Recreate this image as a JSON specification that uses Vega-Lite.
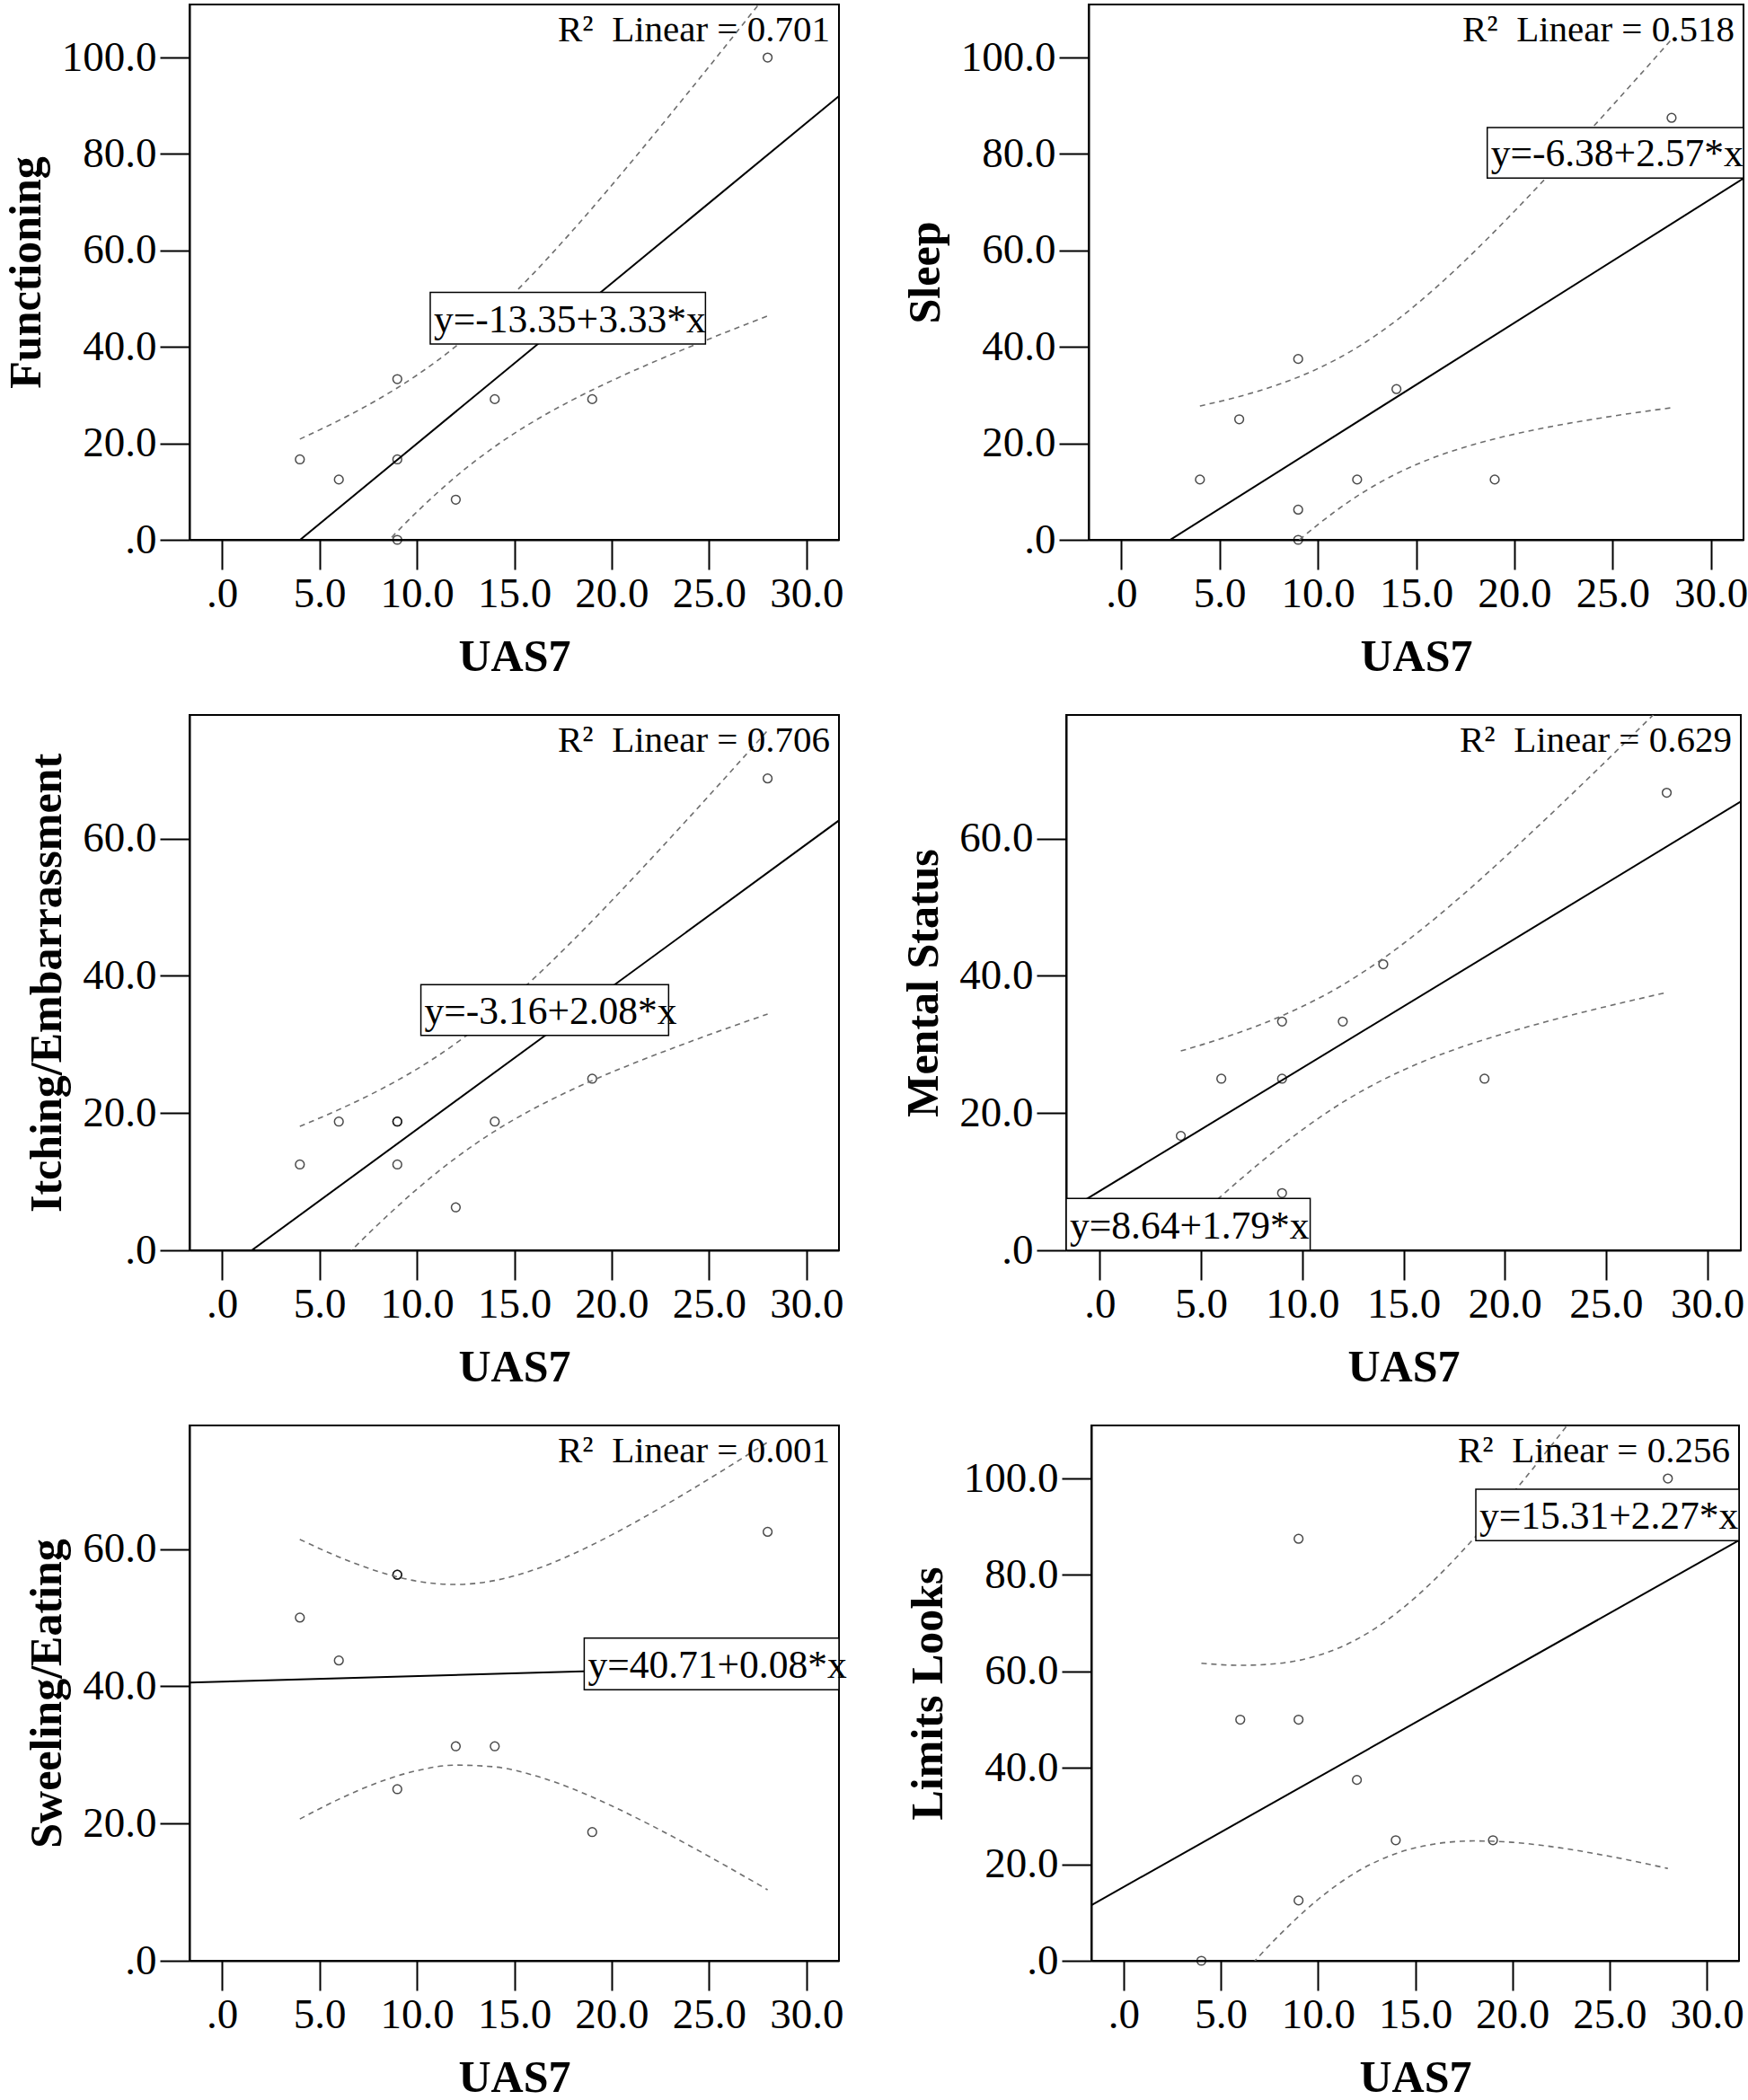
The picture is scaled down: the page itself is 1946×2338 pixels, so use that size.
{
  "$schema": "https://vega.github.io/schema/vega-lite/v6.json",
  "background": "white",
  "padding": {"left": 3, "top": 4, "right": 0, "bottom": 0},
  "config": {
    "font": "Liberation Serif",
    "view": {"stroke": "black", "strokeWidth": 2},
    "axis": {"grid": false, "domainColor": "black", "domainWidth": 2, "tickColor": "black", "tickWidth": 2, "tickSize": 33,
      "labelFont": "Liberation Serif", "labelFontSize": 47, "labelColor": "black",
      "titleFont": "Liberation Serif", "titleFontSize": 50, "titleFontWeight": "bold", "titleColor": "black",
      "labelOverlap": false, "labelFlush": false},
    "axisX": {"labelPadding": 4, "titlePadding": 22},
    "axisY": {"labelPadding": 4, "titlePadding": 14},
    "title": {"font": "Liberation Serif", "fontSize": 41, "fontWeight": "normal", "color": "black", "anchor": "end", "offset": -50, "baseline": "alphabetic", "dx": -10, "frame": "group"}
  },
  "datasets": {
    "pts": [
      {"panel": "F", "uas7": 4, "score": 16.67}, {"panel": "F", "uas7": 6, "score": 12.5}, {"panel": "F", "uas7": 9, "score": 33.33}, {"panel": "F", "uas7": 9, "score": 16.67}, {"panel": "F", "uas7": 9, "score": 0}, {"panel": "F", "uas7": 12, "score": 8.33}, {"panel": "F", "uas7": 14, "score": 29.17}, {"panel": "F", "uas7": 19, "score": 29.17}, {"panel": "F", "uas7": 28, "score": 100},
      {"panel": "S", "uas7": 4, "score": 12.5}, {"panel": "S", "uas7": 6, "score": 25}, {"panel": "S", "uas7": 9, "score": 37.5}, {"panel": "S", "uas7": 9, "score": 6.25}, {"panel": "S", "uas7": 9, "score": 0}, {"panel": "S", "uas7": 12, "score": 12.5}, {"panel": "S", "uas7": 14, "score": 31.25}, {"panel": "S", "uas7": 19, "score": 12.5}, {"panel": "S", "uas7": 28, "score": 87.5},
      {"panel": "I", "uas7": 4, "score": 12.5}, {"panel": "I", "uas7": 6, "score": 18.75}, {"panel": "I", "uas7": 9, "score": 18.75}, {"panel": "I", "uas7": 9, "score": 18.75}, {"panel": "I", "uas7": 9, "score": 12.5}, {"panel": "I", "uas7": 12, "score": 6.25}, {"panel": "I", "uas7": 14, "score": 18.75}, {"panel": "I", "uas7": 19, "score": 25}, {"panel": "I", "uas7": 28, "score": 68.75},
      {"panel": "M", "uas7": 4, "score": 16.67}, {"panel": "M", "uas7": 6, "score": 25}, {"panel": "M", "uas7": 9, "score": 33.33}, {"panel": "M", "uas7": 9, "score": 25}, {"panel": "M", "uas7": 9, "score": 8.33}, {"panel": "M", "uas7": 12, "score": 33.33}, {"panel": "M", "uas7": 14, "score": 41.67}, {"panel": "M", "uas7": 19, "score": 25}, {"panel": "M", "uas7": 28, "score": 66.67},
      {"panel": "W", "uas7": 4, "score": 50}, {"panel": "W", "uas7": 6, "score": 43.75}, {"panel": "W", "uas7": 9, "score": 56.25}, {"panel": "W", "uas7": 9, "score": 56.25}, {"panel": "W", "uas7": 9, "score": 25}, {"panel": "W", "uas7": 12, "score": 31.25}, {"panel": "W", "uas7": 14, "score": 31.25}, {"panel": "W", "uas7": 19, "score": 18.75}, {"panel": "W", "uas7": 28, "score": 62.5},
      {"panel": "L", "uas7": 4, "score": 0}, {"panel": "L", "uas7": 6, "score": 50}, {"panel": "L", "uas7": 9, "score": 87.5}, {"panel": "L", "uas7": 9, "score": 50}, {"panel": "L", "uas7": 9, "score": 12.5}, {"panel": "L", "uas7": 12, "score": 37.5}, {"panel": "L", "uas7": 14, "score": 25}, {"panel": "L", "uas7": 19, "score": 25}, {"panel": "L", "uas7": 28, "score": 100}
    ],
    "ci": [
      {"panel": "F", "uas7": 4, "upper": 20.88, "lower": -20.94}, {"panel": "F", "uas7": 6, "upper": 24.75, "lower": -11.49}, {"panel": "F", "uas7": 8, "upper": 29.09, "lower": -2.51}, {"panel": "F", "uas7": 10, "upper": 34.13, "lower": 5.77}, {"panel": "F", "uas7": 12, "upper": 40.12, "lower": 13.10}, {"panel": "F", "uas7": 14, "upper": 47.21, "lower": 19.33}, {"panel": "F", "uas7": 16, "upper": 55.30, "lower": 24.56}, {"panel": "F", "uas7": 18, "upper": 64.15, "lower": 29.03}, {"panel": "F", "uas7": 20, "upper": 73.51, "lower": 32.99}, {"panel": "F", "uas7": 22, "upper": 83.21, "lower": 36.61}, {"panel": "F", "uas7": 24, "upper": 93.13, "lower": 40.01}, {"panel": "F", "uas7": 26, "upper": 103.19, "lower": 43.27}, {"panel": "F", "uas7": 28, "upper": 113.37, "lower": 46.41},
      {"panel": "S", "uas7": 4, "upper": 27.75, "lower": -19.95}, {"panel": "S", "uas7": 6, "upper": 29.71, "lower": -11.63}, {"panel": "S", "uas7": 8, "upper": 32.21, "lower": -3.85}, {"panel": "S", "uas7": 10, "upper": 35.50, "lower": 3.14}, {"panel": "S", "uas7": 12, "upper": 39.87, "lower": 9.05}, {"panel": "S", "uas7": 14, "upper": 45.50, "lower": 13.70}, {"panel": "S", "uas7": 16, "upper": 52.27, "lower": 17.21}, {"panel": "S", "uas7": 18, "upper": 59.91, "lower": 19.85}, {"panel": "S", "uas7": 20, "upper": 68.13, "lower": 21.91}, {"panel": "S", "uas7": 22, "upper": 76.74, "lower": 23.58}, {"panel": "S", "uas7": 24, "upper": 85.60, "lower": 25.00}, {"panel": "S", "uas7": 26, "upper": 94.62, "lower": 26.26}, {"panel": "S", "uas7": 28, "upper": 103.77, "lower": 27.39},
      {"panel": "I", "uas7": 4, "upper": 18.06, "lower": -7.74}, {"panel": "I", "uas7": 6, "upper": 20.50, "lower": -1.86}, {"panel": "I", "uas7": 8, "upper": 23.23, "lower": 3.73}, {"panel": "I", "uas7": 10, "upper": 26.39, "lower": 8.89}, {"panel": "I", "uas7": 12, "upper": 30.14, "lower": 13.46}, {"panel": "I", "uas7": 14, "upper": 34.56, "lower": 17.36}, {"panel": "I", "uas7": 16, "upper": 39.60, "lower": 20.64}, {"panel": "I", "uas7": 18, "upper": 45.11, "lower": 23.45}, {"panel": "I", "uas7": 20, "upper": 50.94, "lower": 25.94}, {"panel": "I", "uas7": 22, "upper": 56.98, "lower": 28.22}, {"panel": "I", "uas7": 24, "upper": 63.15, "lower": 30.37}, {"panel": "I", "uas7": 26, "upper": 69.41, "lower": 32.43}, {"panel": "I", "uas7": 28, "upper": 75.74, "lower": 34.42},
      {"panel": "M", "uas7": 4, "upper": 29.04, "lower": 2.56}, {"panel": "M", "uas7": 6, "upper": 30.85, "lower": 7.91}, {"panel": "M", "uas7": 8, "upper": 32.96, "lower": 12.96}, {"panel": "M", "uas7": 10, "upper": 35.52, "lower": 17.56}, {"panel": "M", "uas7": 12, "upper": 38.67, "lower": 21.57}, {"panel": "M", "uas7": 14, "upper": 42.53, "lower": 24.87}, {"panel": "M", "uas7": 16, "upper": 47.01, "lower": 27.55}, {"panel": "M", "uas7": 18, "upper": 51.97, "lower": 29.75}, {"panel": "M", "uas7": 20, "upper": 57.27, "lower": 31.61}, {"panel": "M", "uas7": 22, "upper": 62.77, "lower": 33.27}, {"panel": "M", "uas7": 24, "upper": 68.41, "lower": 34.79}, {"panel": "M", "uas7": 26, "upper": 74.15, "lower": 36.21}, {"panel": "M", "uas7": 28, "upper": 79.95, "lower": 37.57},
      {"panel": "W", "uas7": 4, "upper": 61.40, "lower": 20.66}, {"panel": "W", "uas7": 6, "upper": 58.84, "lower": 23.54}, {"panel": "W", "uas7": 8, "upper": 56.74, "lower": 25.96}, {"panel": "W", "uas7": 10, "upper": 55.32, "lower": 27.70}, {"panel": "W", "uas7": 12, "upper": 54.83, "lower": 28.51}, {"panel": "W", "uas7": 14, "upper": 55.41, "lower": 28.25}, {"panel": "W", "uas7": 16, "upper": 56.96, "lower": 27.02}, {"panel": "W", "uas7": 18, "upper": 59.25, "lower": 25.05}, {"panel": "W", "uas7": 20, "upper": 62.05, "lower": 22.57}, {"panel": "W", "uas7": 22, "upper": 65.17, "lower": 19.77}, {"panel": "W", "uas7": 24, "upper": 68.50, "lower": 16.76}, {"panel": "W", "uas7": 26, "upper": 71.98, "lower": 13.60}, {"panel": "W", "uas7": 28, "upper": 75.56, "lower": 10.34},
      {"panel": "L", "uas7": 4, "upper": 61.70, "lower": -12.92}, {"panel": "L", "uas7": 6, "upper": 61.26, "lower": -3.40}, {"panel": "L", "uas7": 8, "upper": 61.66, "lower": 5.28}, {"panel": "L", "uas7": 10, "upper": 63.31, "lower": 12.71}, {"panel": "L", "uas7": 12, "upper": 66.66, "lower": 18.44}, {"panel": "L", "uas7": 14, "upper": 71.97, "lower": 22.21}, {"panel": "L", "uas7": 16, "upper": 79.05, "lower": 24.21}, {"panel": "L", "uas7": 18, "upper": 87.49, "lower": 24.85}, {"panel": "L", "uas7": 20, "upper": 96.86, "lower": 24.56}, {"panel": "L", "uas7": 22, "upper": 106.82, "lower": 23.68}, {"panel": "L", "uas7": 24, "upper": 117.18, "lower": 22.40}, {"panel": "L", "uas7": 26, "upper": 127.79, "lower": 20.87}, {"panel": "L", "uas7": 28, "upper": 138.60, "lower": 19.14}
    ],
    "eq": [
      {"panel": "F", "label": "y=-13.35+3.33*x", "x1": 10.69, "x2": 24.81, "y1": 40.6, "y2": 51.3},
      {"panel": "S", "label": "y=-6.38+2.57*x", "x1": 18.62, "x2": 31.66, "y1": 75.0, "y2": 85.5},
      {"panel": "I", "label": "y=-3.16+2.08*x", "x1": 10.21, "x2": 22.92, "y1": 31.3, "y2": 38.7},
      {"panel": "M", "label": "y=8.64+1.79*x", "x1": -1.66, "x2": 10.39, "y1": 0, "y2": 7.57},
      {"panel": "W", "label": "y=40.71+0.08*x", "x1": 18.59, "x2": 31.66, "y1": 39.5, "y2": 47.0},
      {"panel": "L", "label": "y=15.31+2.27*x", "x1": 18.12, "x2": 31.66, "y1": 87.1, "y2": 97.8}
    ]
  },
  "spacing": 38,
  "vconcat": [
    {"spacing": 63, "hconcat": [
      {"width": 723, "height": 596, "title": {"text": "R²\u00a0 Linear = 0.701"},
       "layer": [
        {"data": {"name": "pts"}, "transform": [{"filter": "datum.panel === 'F'"}], "mark": {"type": "point", "shape": "circle", "filled": false, "color": "black", "size": 95, "strokeWidth": 1.5},
         "encoding": {"x": {"field": "uas7", "type": "quantitative", "scale": {"domain": [-1.66, 31.66], "nice": false, "zero": false}, "axis": {"title": "UAS7", "values": [0, 5, 10, 15, 20, 25, 30], "labelExpr": "datum.value === 0 ? '.0' : format(datum.value, '.1f')"}},
                      "y": {"field": "score", "type": "quantitative", "scale": {"domain": [0, 111], "nice": false}, "axis": {"title": "Functioning", "values": [0, 20, 40, 60, 80, 100], "labelExpr": "datum.value === 0 ? '.0' : format(datum.value, '.1f')"}}}},
        {"data": {"name": "ci"}, "transform": [{"filter": "datum.panel === 'F'"}], "mark": {"type": "line", "clip": true, "color": "#6e6e6e", "strokeWidth": 1.6, "strokeDash": [6, 5], "interpolate": "monotone"},
         "encoding": {"x": {"field": "uas7", "type": "quantitative"}, "y": {"field": "upper", "type": "quantitative"}}},
        {"data": {"name": "ci"}, "transform": [{"filter": "datum.panel === 'F'"}], "mark": {"type": "line", "clip": true, "color": "#6e6e6e", "strokeWidth": 1.6, "strokeDash": [6, 5], "interpolate": "monotone"},
         "encoding": {"x": {"field": "uas7", "type": "quantitative"}, "y": {"field": "lower", "type": "quantitative"}}},
        {"data": {"name": "pts"}, "transform": [{"filter": "datum.panel === 'F'"}, {"regression": "score", "on": "uas7", "extent": [-1.66, 31.66]}], "mark": {"type": "line", "clip": true, "color": "black", "strokeWidth": 2},
         "encoding": {"x": {"field": "uas7", "type": "quantitative"}, "y": {"field": "score", "type": "quantitative"}}},
        {"data": {"name": "eq"}, "transform": [{"filter": "datum.panel === 'F'"}], "mark": {"type": "rect", "fill": "white", "stroke": "black", "strokeWidth": 1.5},
         "encoding": {"x": {"field": "x1", "type": "quantitative"}, "x2": {"field": "x2"}, "y": {"field": "y1", "type": "quantitative"}, "y2": {"field": "y2"}}},
        {"data": {"name": "eq"}, "transform": [{"filter": "datum.panel === 'F'"}], "mark": {"type": "text", "align": "left", "baseline": "alphabetic", "dx": 4, "dy": -13, "font": "Liberation Serif", "fontSize": 43.5, "color": "black"},
         "encoding": {"x": {"field": "x1", "type": "quantitative"}, "y": {"field": "y1", "type": "quantitative"}, "text": {"field": "label"}}}
       ]},
      {"width": 729, "height": 596, "title": {"text": "R²\u00a0 Linear = 0.518"},
       "layer": [
        {"data": {"name": "pts"}, "transform": [{"filter": "datum.panel === 'S'"}], "mark": {"type": "point", "shape": "circle", "filled": false, "color": "black", "size": 95, "strokeWidth": 1.5},
         "encoding": {"x": {"field": "uas7", "type": "quantitative", "scale": {"domain": [-1.66, 31.66], "nice": false, "zero": false}, "axis": {"title": "UAS7", "values": [0, 5, 10, 15, 20, 25, 30], "labelExpr": "datum.value === 0 ? '.0' : format(datum.value, '.1f')"}},
                      "y": {"field": "score", "type": "quantitative", "scale": {"domain": [0, 111], "nice": false}, "axis": {"title": "Sleep", "values": [0, 20, 40, 60, 80, 100], "labelExpr": "datum.value === 0 ? '.0' : format(datum.value, '.1f')"}}}},
        {"data": {"name": "ci"}, "transform": [{"filter": "datum.panel === 'S'"}], "mark": {"type": "line", "clip": true, "color": "#6e6e6e", "strokeWidth": 1.6, "strokeDash": [6, 5], "interpolate": "monotone"},
         "encoding": {"x": {"field": "uas7", "type": "quantitative"}, "y": {"field": "upper", "type": "quantitative"}}},
        {"data": {"name": "ci"}, "transform": [{"filter": "datum.panel === 'S'"}], "mark": {"type": "line", "clip": true, "color": "#6e6e6e", "strokeWidth": 1.6, "strokeDash": [6, 5], "interpolate": "monotone"},
         "encoding": {"x": {"field": "uas7", "type": "quantitative"}, "y": {"field": "lower", "type": "quantitative"}}},
        {"data": {"name": "pts"}, "transform": [{"filter": "datum.panel === 'S'"}, {"regression": "score", "on": "uas7", "extent": [-1.66, 31.66]}], "mark": {"type": "line", "clip": true, "color": "black", "strokeWidth": 2},
         "encoding": {"x": {"field": "uas7", "type": "quantitative"}, "y": {"field": "score", "type": "quantitative"}}},
        {"data": {"name": "eq"}, "transform": [{"filter": "datum.panel === 'S'"}], "mark": {"type": "rect", "fill": "white", "stroke": "black", "strokeWidth": 1.5},
         "encoding": {"x": {"field": "x1", "type": "quantitative"}, "x2": {"field": "x2"}, "y": {"field": "y1", "type": "quantitative"}, "y2": {"field": "y2"}}},
        {"data": {"name": "eq"}, "transform": [{"filter": "datum.panel === 'S'"}], "mark": {"type": "text", "align": "left", "baseline": "alphabetic", "dx": 4, "dy": -13, "font": "Liberation Serif", "fontSize": 43.5, "color": "black"},
         "encoding": {"x": {"field": "x1", "type": "quantitative"}, "y": {"field": "y1", "type": "quantitative"}, "text": {"field": "label"}}}
       ]}
    ]},
    {"spacing": 61, "hconcat": [
      {"width": 723, "height": 596, "title": {"text": "R²\u00a0 Linear = 0.706"},
       "layer": [
        {"data": {"name": "pts"}, "transform": [{"filter": "datum.panel === 'I'"}], "mark": {"type": "point", "shape": "circle", "filled": false, "color": "black", "size": 95, "strokeWidth": 1.5},
         "encoding": {"x": {"field": "uas7", "type": "quantitative", "scale": {"domain": [-1.66, 31.66], "nice": false, "zero": false}, "axis": {"title": "UAS7", "values": [0, 5, 10, 15, 20, 25, 30], "labelExpr": "datum.value === 0 ? '.0' : format(datum.value, '.1f')"}},
                      "y": {"field": "score", "type": "quantitative", "scale": {"domain": [0, 78], "nice": false}, "axis": {"title": "Itching/Embarrassment", "values": [0, 20, 40, 60], "labelExpr": "datum.value === 0 ? '.0' : format(datum.value, '.1f')"}}}},
        {"data": {"name": "ci"}, "transform": [{"filter": "datum.panel === 'I'"}], "mark": {"type": "line", "clip": true, "color": "#6e6e6e", "strokeWidth": 1.6, "strokeDash": [6, 5], "interpolate": "monotone"},
         "encoding": {"x": {"field": "uas7", "type": "quantitative"}, "y": {"field": "upper", "type": "quantitative"}}},
        {"data": {"name": "ci"}, "transform": [{"filter": "datum.panel === 'I'"}], "mark": {"type": "line", "clip": true, "color": "#6e6e6e", "strokeWidth": 1.6, "strokeDash": [6, 5], "interpolate": "monotone"},
         "encoding": {"x": {"field": "uas7", "type": "quantitative"}, "y": {"field": "lower", "type": "quantitative"}}},
        {"data": {"name": "pts"}, "transform": [{"filter": "datum.panel === 'I'"}, {"regression": "score", "on": "uas7", "extent": [-1.66, 31.66]}], "mark": {"type": "line", "clip": true, "color": "black", "strokeWidth": 2},
         "encoding": {"x": {"field": "uas7", "type": "quantitative"}, "y": {"field": "score", "type": "quantitative"}}},
        {"data": {"name": "eq"}, "transform": [{"filter": "datum.panel === 'I'"}], "mark": {"type": "rect", "fill": "white", "stroke": "black", "strokeWidth": 1.5},
         "encoding": {"x": {"field": "x1", "type": "quantitative"}, "x2": {"field": "x2"}, "y": {"field": "y1", "type": "quantitative"}, "y2": {"field": "y2"}}},
        {"data": {"name": "eq"}, "transform": [{"filter": "datum.panel === 'I'"}], "mark": {"type": "text", "align": "left", "baseline": "alphabetic", "dx": 4, "dy": -13, "font": "Liberation Serif", "fontSize": 43.5, "color": "black"},
         "encoding": {"x": {"field": "x1", "type": "quantitative"}, "y": {"field": "y1", "type": "quantitative"}, "text": {"field": "label"}}}
       ]},
      {"width": 751, "height": 596, "title": {"text": "R²\u00a0 Linear = 0.629"},
       "layer": [
        {"data": {"name": "pts"}, "transform": [{"filter": "datum.panel === 'M'"}], "mark": {"type": "point", "shape": "circle", "filled": false, "color": "black", "size": 95, "strokeWidth": 1.5},
         "encoding": {"x": {"field": "uas7", "type": "quantitative", "scale": {"domain": [-1.66, 31.66], "nice": false, "zero": false}, "axis": {"title": "UAS7", "values": [0, 5, 10, 15, 20, 25, 30], "labelExpr": "datum.value === 0 ? '.0' : format(datum.value, '.1f')"}},
                      "y": {"field": "score", "type": "quantitative", "scale": {"domain": [0, 78], "nice": false}, "axis": {"title": "Mental Status", "values": [0, 20, 40, 60], "labelExpr": "datum.value === 0 ? '.0' : format(datum.value, '.1f')"}}}},
        {"data": {"name": "ci"}, "transform": [{"filter": "datum.panel === 'M'"}], "mark": {"type": "line", "clip": true, "color": "#6e6e6e", "strokeWidth": 1.6, "strokeDash": [6, 5], "interpolate": "monotone"},
         "encoding": {"x": {"field": "uas7", "type": "quantitative"}, "y": {"field": "upper", "type": "quantitative"}}},
        {"data": {"name": "ci"}, "transform": [{"filter": "datum.panel === 'M'"}], "mark": {"type": "line", "clip": true, "color": "#6e6e6e", "strokeWidth": 1.6, "strokeDash": [6, 5], "interpolate": "monotone"},
         "encoding": {"x": {"field": "uas7", "type": "quantitative"}, "y": {"field": "lower", "type": "quantitative"}}},
        {"data": {"name": "pts"}, "transform": [{"filter": "datum.panel === 'M'"}, {"regression": "score", "on": "uas7", "extent": [-1.66, 31.66]}], "mark": {"type": "line", "clip": true, "color": "black", "strokeWidth": 2},
         "encoding": {"x": {"field": "uas7", "type": "quantitative"}, "y": {"field": "score", "type": "quantitative"}}},
        {"data": {"name": "eq"}, "transform": [{"filter": "datum.panel === 'M'"}], "mark": {"type": "rect", "fill": "white", "stroke": "black", "strokeWidth": 1.5},
         "encoding": {"x": {"field": "x1", "type": "quantitative"}, "x2": {"field": "x2"}, "y": {"field": "y1", "type": "quantitative"}, "y2": {"field": "y2"}}},
        {"data": {"name": "eq"}, "transform": [{"filter": "datum.panel === 'M'"}], "mark": {"type": "text", "align": "left", "baseline": "alphabetic", "dx": 4, "dy": -13, "font": "Liberation Serif", "fontSize": 43.5, "color": "black"},
         "encoding": {"x": {"field": "x1", "type": "quantitative"}, "y": {"field": "y1", "type": "quantitative"}, "text": {"field": "label"}}}
       ]}
    ]},
    {"spacing": 63, "hconcat": [
      {"width": 723, "height": 596, "title": {"text": "R²\u00a0 Linear = 0.001"},
       "layer": [
        {"data": {"name": "pts"}, "transform": [{"filter": "datum.panel === 'W'"}], "mark": {"type": "point", "shape": "circle", "filled": false, "color": "black", "size": 95, "strokeWidth": 1.5},
         "encoding": {"x": {"field": "uas7", "type": "quantitative", "scale": {"domain": [-1.66, 31.66], "nice": false, "zero": false}, "axis": {"title": "UAS7", "values": [0, 5, 10, 15, 20, 25, 30], "labelExpr": "datum.value === 0 ? '.0' : format(datum.value, '.1f')"}},
                      "y": {"field": "score", "type": "quantitative", "scale": {"domain": [0, 78], "nice": false}, "axis": {"title": "Sweeling/Eating", "values": [0, 20, 40, 60], "labelExpr": "datum.value === 0 ? '.0' : format(datum.value, '.1f')"}}}},
        {"data": {"name": "ci"}, "transform": [{"filter": "datum.panel === 'W'"}], "mark": {"type": "line", "clip": true, "color": "#6e6e6e", "strokeWidth": 1.6, "strokeDash": [6, 5], "interpolate": "monotone"},
         "encoding": {"x": {"field": "uas7", "type": "quantitative"}, "y": {"field": "upper", "type": "quantitative"}}},
        {"data": {"name": "ci"}, "transform": [{"filter": "datum.panel === 'W'"}], "mark": {"type": "line", "clip": true, "color": "#6e6e6e", "strokeWidth": 1.6, "strokeDash": [6, 5], "interpolate": "monotone"},
         "encoding": {"x": {"field": "uas7", "type": "quantitative"}, "y": {"field": "lower", "type": "quantitative"}}},
        {"data": {"name": "pts"}, "transform": [{"filter": "datum.panel === 'W'"}, {"regression": "score", "on": "uas7", "extent": [-1.66, 31.66]}], "mark": {"type": "line", "clip": true, "color": "black", "strokeWidth": 2},
         "encoding": {"x": {"field": "uas7", "type": "quantitative"}, "y": {"field": "score", "type": "quantitative"}}},
        {"data": {"name": "eq"}, "transform": [{"filter": "datum.panel === 'W'"}], "mark": {"type": "rect", "fill": "white", "stroke": "black", "strokeWidth": 1.5},
         "encoding": {"x": {"field": "x1", "type": "quantitative"}, "x2": {"field": "x2"}, "y": {"field": "y1", "type": "quantitative"}, "y2": {"field": "y2"}}},
        {"data": {"name": "eq"}, "transform": [{"filter": "datum.panel === 'W'"}], "mark": {"type": "text", "align": "left", "baseline": "alphabetic", "dx": 4, "dy": -13, "font": "Liberation Serif", "fontSize": 43.5, "color": "black"},
         "encoding": {"x": {"field": "x1", "type": "quantitative"}, "y": {"field": "y1", "type": "quantitative"}, "text": {"field": "label"}}}
       ]},
      {"width": 721, "height": 596, "title": {"text": "R²\u00a0 Linear = 0.256"},
       "layer": [
        {"data": {"name": "pts"}, "transform": [{"filter": "datum.panel === 'L'"}], "mark": {"type": "point", "shape": "circle", "filled": false, "color": "black", "size": 95, "strokeWidth": 1.5},
         "encoding": {"x": {"field": "uas7", "type": "quantitative", "scale": {"domain": [-1.66, 31.66], "nice": false, "zero": false}, "axis": {"title": "UAS7", "values": [0, 5, 10, 15, 20, 25, 30], "labelExpr": "datum.value === 0 ? '.0' : format(datum.value, '.1f')"}},
                      "y": {"field": "score", "type": "quantitative", "scale": {"domain": [0, 111], "nice": false}, "axis": {"title": "Limits Looks", "values": [0, 20, 40, 60, 80, 100], "labelExpr": "datum.value === 0 ? '.0' : format(datum.value, '.1f')"}}}},
        {"data": {"name": "ci"}, "transform": [{"filter": "datum.panel === 'L'"}], "mark": {"type": "line", "clip": true, "color": "#6e6e6e", "strokeWidth": 1.6, "strokeDash": [6, 5], "interpolate": "monotone"},
         "encoding": {"x": {"field": "uas7", "type": "quantitative"}, "y": {"field": "upper", "type": "quantitative"}}},
        {"data": {"name": "ci"}, "transform": [{"filter": "datum.panel === 'L'"}], "mark": {"type": "line", "clip": true, "color": "#6e6e6e", "strokeWidth": 1.6, "strokeDash": [6, 5], "interpolate": "monotone"},
         "encoding": {"x": {"field": "uas7", "type": "quantitative"}, "y": {"field": "lower", "type": "quantitative"}}},
        {"data": {"name": "pts"}, "transform": [{"filter": "datum.panel === 'L'"}, {"regression": "score", "on": "uas7", "extent": [-1.66, 31.66]}], "mark": {"type": "line", "clip": true, "color": "black", "strokeWidth": 2},
         "encoding": {"x": {"field": "uas7", "type": "quantitative"}, "y": {"field": "score", "type": "quantitative"}}},
        {"data": {"name": "eq"}, "transform": [{"filter": "datum.panel === 'L'"}], "mark": {"type": "rect", "fill": "white", "stroke": "black", "strokeWidth": 1.5},
         "encoding": {"x": {"field": "x1", "type": "quantitative"}, "x2": {"field": "x2"}, "y": {"field": "y1", "type": "quantitative"}, "y2": {"field": "y2"}}},
        {"data": {"name": "eq"}, "transform": [{"filter": "datum.panel === 'L'"}], "mark": {"type": "text", "align": "left", "baseline": "alphabetic", "dx": 4, "dy": -13, "font": "Liberation Serif", "fontSize": 43.5, "color": "black"},
         "encoding": {"x": {"field": "x1", "type": "quantitative"}, "y": {"field": "y1", "type": "quantitative"}, "text": {"field": "label"}}}
       ]}
    ]}
  ]
}
